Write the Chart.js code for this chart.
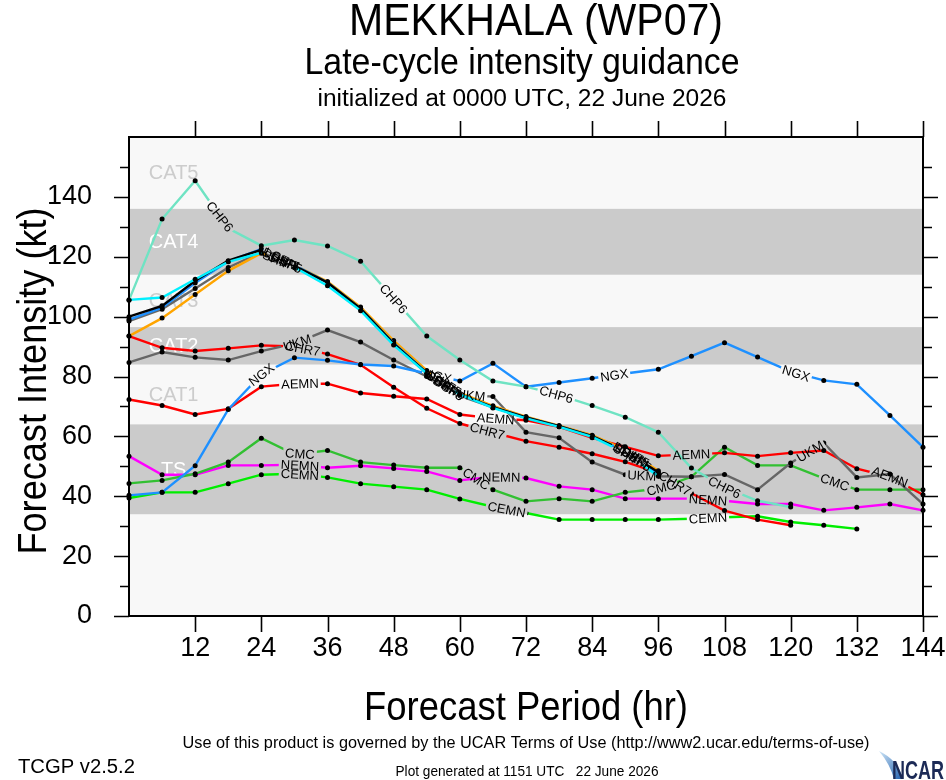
<!DOCTYPE html>
<html><head><meta charset="utf-8">
<script src="https://cdn.jsdelivr.net/npm/chart.js@4.4.1/dist/chart.umd.min.js"></script>
<style>html,body{margin:0;padding:0;background:#fff;}#wrap{width:946px;height:780px;position:relative;}</style>
</head><body><div id="wrap"><canvas id="c" width="946" height="780"></canvas></div>
<script>
const FONT = '"Liberation Sans", "Helvetica Neue", Arial, sans-serif';

// ---------- data ----------
const HOURS = [0,6,12,18,24,30,36,42,48,54,60,66,72,78,84,90,96,102,108,114,120,126,132,138,144];
const X_TICKS = [12,24,36,48,60,72,84,96,108,120,132,144];
const Y_TICKS = [0,20,40,60,80,100,120,140];

const CHP6 = [105.5,132.6,145.4,129.5,123.7,125.6,123.6,118.5,106,93.5,85.5,78.5,76.6,73.8,70.3,66.4,61.4,49.4,43,38.5,36.4];
const SHIP = [105.6,106.4,112.5,118.3,121.3,116.5,110.3,102,90.5,81,74,69.5,66,63.2,59.8,54.5,46.7];
const DSHP = [100,103.6,112,118.7,122.3,117,111.4,102.7,91,81.2,74,69.8,66.3,63.4,60.1,55,48];
const LGEM = [99,103,111.2,118.5,122.6,117.2,111.4,102.7,91.2,81.3,74,69.8,66.3,63.4,60.1,55,47.5];
const SHF5 = [93.5,99.5,107.4,115.3,121.2,117.2,111.7,103.2,92,82,74.5,70.2,66.6,63.6,60.4,55.5,48.5];
const DSF5 = [98.5,102.5,109.4,116.4,121.5,116.8,111.4,102.7,91,81,73.5,69.7,66.2,63.4,60,55,47.2];
const NGX  = [40.3,41.3,50.2,69,80.7,86.3,85.4,84,83.5,81,78.5,84.4,76.6,78,79.4,81,82.4,86.8,91.3,86.5,81.6,78.7,77.4,67,56.4];
const UKM  = [84.7,88.2,86.4,85.5,88.5,91,95.5,91.5,85.5,80,74,73.3,61.4,59.5,51.4,47.2,46.7,46.5,47.3,42.2,51.1,57.8,46.3,47.4,37.4];
const AEMN = [72.3,70.3,67.3,69.2,76.6,77.6,77.6,74.5,73.4,72.5,67.3,66,65.4,63.2,59.5,56.5,53.5,54,54.5,53.4,54.5,55.3,49.2,46.5,40.5];
const CHR7 = [93.5,89.6,88.5,89.4,90.4,90,87.5,83.9,76.4,69.4,64.3,61.3,58.4,56.4,54.2,51.5,47.8,41,35.2,32.2,30.3];
const CMC  = [44.3,45.3,47.5,51.4,59.4,54,55.3,51.4,50.4,49.5,49.5,42.2,38.3,39.2,38.3,41.3,42.5,46.5,56.4,50.3,50.3,46,42.2,42.2,42.2];
const NEMN = [53.4,47.2,47.2,50.3,50.3,50.5,49.5,50.2,49.3,48.3,45.3,46.5,46.1,43.3,42.2,39.2,39.2,39.2,38.5,37.4,37.4,35.3,36.3,37.4,35.3];
const CEMN = [39.4,41.3,41.3,44.2,47.2,47.5,46.3,44.2,43.2,42.2,39.1,36.5,34.4,32.2,32.2,32.2,32.2,32.5,33,33.3,31.4,30.3,29.1];

// intensity categories
const CAT_NAMES = ['TS','CAT1','CAT2','CAT3','CAT4','CAT5'];
const CAT_LOW  = [34,64,84,96.5,114,136];
const CAT_HIGH = [64,84,96.5,114,136,160];
const CAT_SHADED = [true,false,true,false,true,false];

// ---------- styles ----------
const SERIES = [
  {name:'CHP6', values:CHP6, color:'#6fe3c3', at:[16.5,48,77.5,108]},
  {name:'SHIP', values:SHIP, color:'#00f0ff', at:[26.9,56.4,90.4]},
  {name:'DSHP', values:DSHP, color:'#000000', at:[27.3,56.8,90.8]},
  {name:'LGEM', values:LGEM, color:'#1e90ff', at:[27.7,57.2,91.2]},
  {name:'SHF5', values:SHF5, color:'#ffa500', at:[28.1,57.6,91.6]},
  {name:'DSF5', values:DSF5, color:'#666666', at:[28.5,58,92]},
  {name:'NGX',  values:NGX,  color:'#1e90ff', at:[24,56,88,121]},
  {name:'UKM',  values:UKM,  color:'#666666', at:[30.5,62,93,123.5]},
  {name:'AEMN', values:AEMN, color:'#ff0000', at:[31,66.5,102,138]},
  {name:'CHR7', values:CHR7, color:'#ff0000', at:[31.5,65,99]},
  {name:'CMC',  values:CMC,  color:'#32c032', at:[31,63,96.5,128]},
  {name:'NEMN', values:NEMN, color:'#ff00ff', at:[31,67.5,105]},
  {name:'CEMN', values:CEMN, color:'#00ee00', at:[31,68.5,105]}
];

const datasets = SERIES.map(s => ({
  label: s.name,
  data: s.values.map((v,i) => ({x: HOURS[i], y: v})),
  borderColor: s.color, backgroundColor: s.color,
  borderWidth: 2.4, pointRadius: 2.5, pointHoverRadius: 2.5,
  pointBackgroundColor: '#000', pointBorderWidth: 0,
  tension: 0, clip: 6,
  labelHours: s.at, labelText: s.name
}));

const W = 946, H = 780;

function interp(ds, h) {
  const d = ds.data;
  for (let k = 0; k < d.length - 1; k++) {
    if (h >= d[k].x && h <= d[k+1].x) {
      const t = (h - d[k].x) / (d[k+1].x - d[k].x);
      return d[k].y + t * (d[k+1].y - d[k].y);
    }
  }
  return null;
}
function labelBoxes(chart, ds) {
  const xs = chart.scales.x, ys = chart.scales.y, ctx = chart.ctx;
  ctx.save(); ctx.font = '13px ' + FONT;
  const tw = ctx.measureText(ds.labelText).width; ctx.restore();
  const first = ds.data[0].x, last = ds.data[ds.data.length-1].x;
  return (ds.labelHours || []).map(h => {
    const v = interp(ds, h); if (v == null) return null;
    const h0 = Math.max(first, h - 2.5), h1 = Math.min(last, h + 2.5);
    const x0 = xs.getPixelForValue(h0), y0 = ys.getPixelForValue(interp(ds, h0));
    const x1 = xs.getPixelForValue(h1), y1 = ys.getPixelForValue(interp(ds, h1));
    return {cx: xs.getPixelForValue(h), cy: ys.getPixelForValue(v), ang: Math.atan2(y1 - y0, x1 - x0), w: tw + 4, h: 14};
  }).filter(Boolean);
}
function fitText(ctx, text, x, y, size, width, align, rot, opts) {
  ctx.save();
  ctx.font = ((opts && opts.weight) ? opts.weight + ' ' : '') + size + 'px ' + FONT;
  const w = ctx.measureText(text).width;
  const sx = width ? width / w : 1;
  ctx.translate(x, y);
  if (rot) ctx.rotate(rot);
  ctx.scale(sx, 1);
  ctx.textAlign = align || 'center';
  ctx.textBaseline = 'alphabetic';
  ctx.fillStyle = (opts && opts.color) || '#000';
  ctx.fillText(text, 0, 0);
  ctx.restore();
}

const decor = {
  id: 'decor',
  beforeDatasetsDraw(chart) {
    const {ctx, chartArea: a} = chart, ys = chart.scales.y, xs = chart.scales.x;
    ctx.save();
    ctx.fillStyle = '#f8f8f8';
    ctx.fillRect(a.left, a.top, a.right - a.left, a.bottom - a.top);
    CAT_NAMES.forEach((n, i) => {
      const yt = ys.getPixelForValue(CAT_HIGH[i]), yb = ys.getPixelForValue(CAT_LOW[i]);
      if (CAT_SHADED[i]) { ctx.fillStyle = '#cbcbcb'; ctx.fillRect(a.left, yt, a.right - a.left, yb - yt); }
    });
    CAT_NAMES.forEach((n, i) => {
      const ym = ys.getPixelForValue((CAT_HIGH[i] + CAT_LOW[i]) / 2);
      ctx.font = '20px ' + FONT;
      ctx.fillStyle = CAT_SHADED[i] ? '#ffffff' : '#cccccc';
      ctx.textAlign = 'center'; ctx.textBaseline = 'middle';
      ctx.fillText(n, xs.getPixelForValue(8.1), ym + 1);
    });
    ctx.restore();
  },
  beforeDatasetDraw(chart, args) {
    const ds = chart.data.datasets[args.index];
    const boxes = labelBoxes(chart, ds);
    if (!boxes.length) return;
    const ctx = chart.ctx;
    ctx.save();
    ctx.beginPath();
    ctx.rect(0, 0, W, H);
    boxes.forEach(b => {
      const c = Math.cos(b.ang), s = Math.sin(b.ang), hw = b.w / 2, hh = b.h / 2;
      const pts = [[-hw,-hh],[-hw,hh],[hw,hh],[hw,-hh]].map(([u,v]) => [b.cx + u*c - v*s, b.cy + u*s + v*c]);
      ctx.moveTo(pts[0][0], pts[0][1]);
      for (let k = 1; k < 4; k++) ctx.lineTo(pts[k][0], pts[k][1]);
      ctx.closePath();
    });
    ctx.clip();
    chart.$lbl = chart.$lbl || {};
    chart.$lbl[args.index] = true;
  },
  afterDatasetDraw(chart, args) {
    if (chart.$lbl && chart.$lbl[args.index]) { chart.ctx.restore(); chart.$lbl[args.index] = false; }
  },
  afterDatasetsDraw(chart) {
    const {ctx, chartArea: a} = chart, xs = chart.scales.x, ys = chart.scales.y;
    ctx.save();
    const order = chart.data.datasets.map((d, i) => i).reverse();
    order.forEach(i => {
      const ds = chart.data.datasets[i];
      labelBoxes(chart, ds).forEach(b => {
        ctx.save();
        ctx.translate(b.cx, b.cy); ctx.rotate(b.ang);
        ctx.font = '13px ' + FONT; ctx.fillStyle = '#000';
        ctx.textAlign = 'center'; ctx.textBaseline = 'middle';
        ctx.fillText(ds.labelText, 0, 1);
        ctx.restore();
      });
    });
    ctx.strokeStyle = '#000'; ctx.lineWidth = 2;
    ctx.strokeRect(a.left, a.top, a.right - a.left, a.bottom - a.top);
    ctx.lineWidth = 1.6;
    ctx.beginPath();
    for (let v = 0; v < 160; v += 10) {
      const y = Math.round(ys.getPixelForValue(v)) + 0.5;
      const len = (v % 20 === 0) ? 15 : 9;
      ctx.moveTo(a.left, y); ctx.lineTo(a.left - len, y);
      ctx.moveTo(a.right, y); ctx.lineTo(a.right + len, y);
    }
    X_TICKS.forEach(h => {
      const x = Math.round(xs.getPixelForValue(h)) + 0.5;
      ctx.moveTo(x, a.bottom); ctx.lineTo(x, a.bottom + 16);
      ctx.moveTo(x, a.top); ctx.lineTo(x, a.top - 16);
    });
    ctx.stroke();
    ctx.restore();
  },
  afterDraw(chart) {
    const ctx = chart.ctx;
    fitText(ctx, 'MEKKHALA (WP07)', 536, 35, 45, 374);
    fitText(ctx, 'Late-cycle intensity guidance', 522, 74, 36, 435);
    fitText(ctx, 'initialized at 0000 UTC, 22 June 2026', 522, 106, 23, 409);
    fitText(ctx, 'Forecast Intensity (kt)', 46, 381, 40, 347, 'center', -Math.PI / 2);
    fitText(ctx, 'Forecast Period (hr)', 526, 720, 40, 324);
    fitText(ctx, 'Use of this product is governed by the UCAR Terms of Use (http://www2.ucar.edu/terms-of-use)', 526, 748, 16, 687);
    fitText(ctx, 'TCGP v2.5.2', 18, 773, 20, 117, 'left');
    fitText(ctx, 'Plot generated at 1151 UTC   22 June 2026', 527, 776, 14, 263);
    ctx.save();
    const g = ctx.createLinearGradient(878, 752, 905, 778);
    g.addColorStop(0, '#cfe6f7'); g.addColorStop(1, '#1f5fae');
    ctx.fillStyle = g;
    ctx.beginPath();
    ctx.moveTo(879, 751); ctx.quadraticCurveTo(898, 760, 903, 779); ctx.lineTo(894, 779);
    ctx.quadraticCurveTo(890, 764, 879, 751); ctx.closePath(); ctx.fill();
    ctx.restore();
    fitText(ctx, 'NCAR', 892, 779, 26, 52, 'left', 0, {weight: 'bold', color: '#1c2a56'});
  }
};

new Chart(document.getElementById('c'), {
  type: 'line',
  data: {datasets},
  plugins: [decor],
  options: {
    responsive: false, animation: false, devicePixelRatio: 1,
    layout: {padding: {top: 137, right: 23, left: 0, bottom: 0}},
    plugins: {legend: {display: false}, tooltip: {enabled: false}, title: {display: false}},
    events: [],
    scales: {
      x: {type: 'linear', min: 0, max: 144, position: 'bottom',
          afterFit(s) { s.height = 164; s.paddingLeft = 0; s.paddingRight = 0; },
          grid: {display: false, drawTicks: false}, border: {display: false},
          afterBuildTicks(s) { s.ticks = [0].concat(X_TICKS).map(v => ({value: v})); },
          ticks: {padding: 16, color: '#000', autoSkip: false, maxRotation: 0,
                  font: {size: 27, family: FONT}, callback: v => v === 0 ? '' : String(v)}},
      y: {type: 'linear', min: 0, max: 160, position: 'left',
          afterFit(s) { s.width = 129; s.paddingTop = 0; s.paddingBottom = 0; },
          grid: {display: false, drawTicks: false}, border: {display: false},
          afterBuildTicks(s) { s.ticks = Y_TICKS.map(v => ({value: v})); },
          ticks: {padding: 37, color: '#000', font: {size: 27, family: FONT}}}
    }
  }
});
</script></body></html>
